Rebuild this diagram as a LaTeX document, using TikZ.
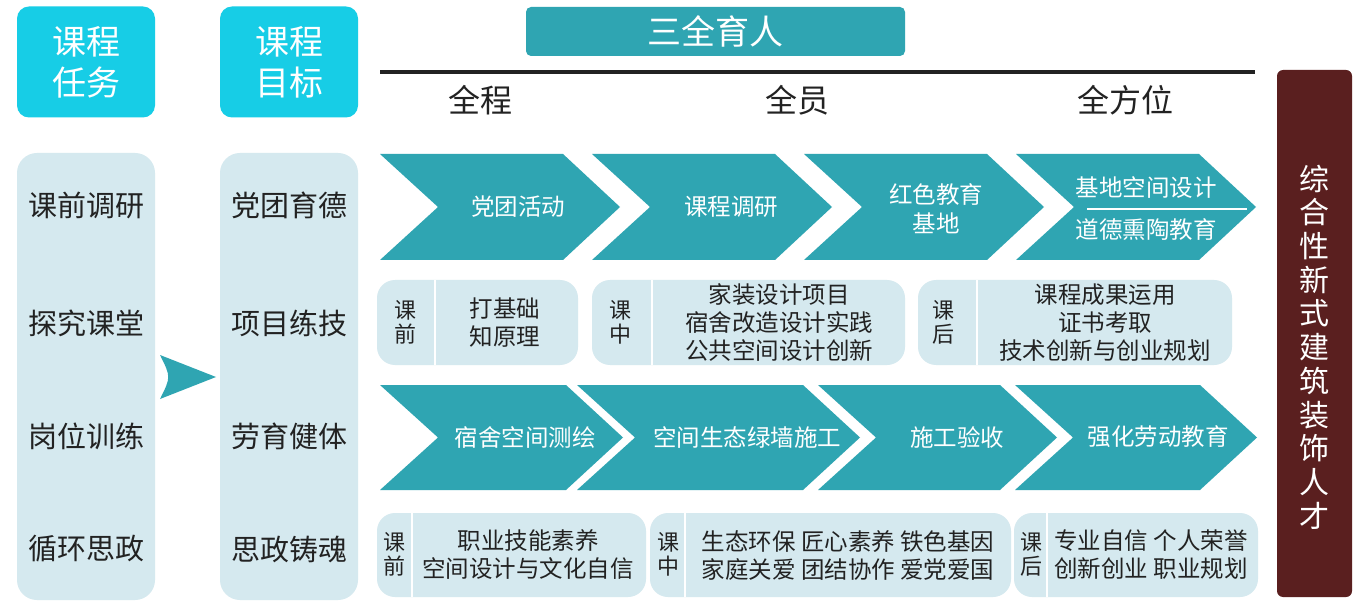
\documentclass[tikz,border=0pt]{standalone}
\usepackage{fontspec}
\setmainfont{Noto Sans CJK SC}
\usetikzlibrary{calc}
\definecolor{HeadCyan}{HTML}{17CDE6}
\definecolor{PanelBlue}{HTML}{D5E9EF}
\definecolor{ChevTeal}{HTML}{2FA5B2}
\definecolor{BarRed}{HTML}{5A1F1F}
\definecolor{Ink}{HTML}{222222}
% chevron: left x, top y, width, height
\newcommand{\chevron}[4]{%
  \fill[ChevTeal] (#1,#2) -- ++(#3-57,0) -- ++(57,#4/2) -- ++(-57,#4/2)
    -- ++(57-#3,0) -- ++(58,-#4/2) -- cycle;%
}
\tikzset{
  headbox/.style={rounded corners=12pt, fill=HeadCyan, text=white,
    minimum width=138pt, minimum height=111pt, align=center,
    font=\fontsize{34}{41}\selectfont},
  panel/.style={rounded corners=20pt, fill=PanelBlue,
    minimum width=138pt, minimum height=447pt},
  coltext/.style={text=Ink, font=\fontsize{29}{31}\selectfont},
  toptext/.style={text=Ink, font=\fontsize{32}{34}\selectfont},
  chevtext/.style={text=white, align=center, font=\fontsize{23.5}{29}\selectfont},
  infobox/.style={rounded corners=18pt, fill=PanelBlue, inner sep=0pt},
  infotext/.style={text=Ink, align=center, font=\fontsize{23.5}{28}\selectfont},
  sidetext/.style={text=Ink, align=center, font=\fontsize{22}{24}\selectfont},
  divider/.style={draw=white, line width=2pt},
}

\begin{document}
\begin{tikzpicture}[x=1pt, y=-1pt]
  \fill[white] (0,0) rectangle (1372,609);
  \useasboundingbox (0,0) rectangle (1372,609);

  % left columns
  \node[headbox] (task) at (86,62) {课程\\任务};
  \node[headbox] (goal) at (289,62) {课程\\目标};
  \node[panel] (taskcol) at (86,376.5) {};
  \node[panel] (goalcol) at (289,376.5) {};
  \node[coltext] (t1) at (86,205) {课前调研};
  \node[coltext] (t2) at (86,323) {探究课堂};
  \node[coltext] (t3) at (86,436) {岗位训练};
  \node[coltext] (t4) at (86,549) {循环思政};
  \node[coltext] (g1) at (289,205) {党团育德};
  \node[coltext] (g2) at (289,323) {项目练技};
  \node[coltext] (g3) at (289,436) {劳育健体};
  \node[coltext] (g4) at (289,549) {思政铸魂};
  \fill[ChevTeal] (160,355) -- (216,377) -- (160,399)
    .. controls (171,377) .. (160,355);

  % header
  \node[rounded corners=5pt, fill=ChevTeal, text=white, minimum width=379pt,
    minimum height=49pt, font=\fontsize{34}{36}\selectfont] (sqyr) at (715.5,31.5) {三全育人};
  \draw[line width=3.5pt, Ink] (380,72) -- (1255,72);
  \node[toptext] (qc) at (480,100) {全程};
  \node[toptext] (qy) at (797,100) {全员};
  \node[toptext] (qfw) at (1125,100) {全方位};

  % row 1
  \chevron{380}{154}{240}{106}
  \chevron{592}{154}{240}{106}
  \chevron{804}{154}{240}{106}
  \chevron{1016}{154}{240}{106}
  \node[chevtext] (r1a) at (518,207) {党团活动};
  \node[chevtext] (r1b) at (731,207) {课程调研};
  \node[chevtext] (r1c) at (936,209) {红色教育\\基地};
  \node[chevtext] (r1d) at (1146,188) {基地空间设计};
  \node[chevtext] (r1e) at (1146,230) {道德熏陶教育};
  \draw[white, line width=1.5pt] (1087,209) -- (1247,209);

  % row 2
  \node[infobox, minimum width=201pt, minimum height=85pt] (pre1) at (477.5,322.5) {};
  \node[infobox, minimum width=313pt, minimum height=85pt] (mid1) at (748.5,322.5) {};
  \node[infobox, minimum width=314pt, minimum height=85pt] (post1) at (1075,322.5) {};
  \draw[divider] (435,280) -- (435,365);
  \draw[divider] (652,280) -- (652,365);
  \draw[divider] (977,280) -- (977,365);
  \node[sidetext] (pre1s) at (405,322) {课\\前};
  \node[infotext] (pre1t) at (505,323) {打基础\\知原理};
  \node[sidetext] (mid1s) at (620,322) {课\\中};
  \node[infotext] (mid1t) at (779,323) {家装设计项目\\宿舍改造设计实践\\公共空间设计创新};
  \node[sidetext] (post1s) at (943,322) {课\\后};
  \node[infotext] (post1t) at (1105,323) {课程成果运用\\证书考取\\技术创新与创业规划};

  % row 3
  \chevron{380}{385}{243}{105}
  \chevron{577}{385}{283}{105}
  \chevron{818}{385}{239}{105}
  \chevron{1015}{385}{242}{105}
  \node[chevtext] (r3a) at (525,437) {宿舍空间测绘};
  \node[chevtext] (r3b) at (747,437) {空间生态绿墙施工};
  \node[chevtext] (r3c) at (957,437) {施工验收};
  \node[chevtext] (r3d) at (1158,437) {强化劳动教育};

  % row 4
  \node[infobox, minimum width=269pt, minimum height=84pt] (pre2) at (511.5,555) {};
  \node[infobox, minimum width=361pt, minimum height=84pt] (mid2) at (830.5,555) {};
  \node[infobox, minimum width=244pt, minimum height=84pt] (post2) at (1136,555) {};
  \draw[divider] (412,513) -- (412,597);
  \draw[divider] (685,513) -- (685,597);
  \draw[divider] (1047,513) -- (1047,597);
  \node[sidetext] (pre2s) at (394,554) {课\\前};
  \node[infotext] (pre2t) at (528,555) {职业技能素养\\空间设计与文化自信};
  \node[sidetext] (mid2s) at (668,554) {课\\中};
  \node[infotext] (mid2t) at (848,555) {生态环保 匠心素养 铁色基因\\家庭关爱 团结协作 爱党爱国};
  \node[sidetext] (post2s) at (1031,554) {课\\后};
  \node[infotext] (post2t) at (1151,555) {专业自信 个人荣誉\\创新创业 职业规划};

  % right bar
  \node[rounded corners=6pt, fill=BarRed, minimum width=75pt,
    minimum height=527pt] (talent) at (1314.5,333.5) {};
  \node[text=white, align=center, font=\fontsize{30}{33.7}\selectfont] (talentt)
    at (1314.5,347) {综\\合\\性\\新\\式\\建\\筑\\装\\饰\\人\\才};
\end{tikzpicture}
\end{document}
